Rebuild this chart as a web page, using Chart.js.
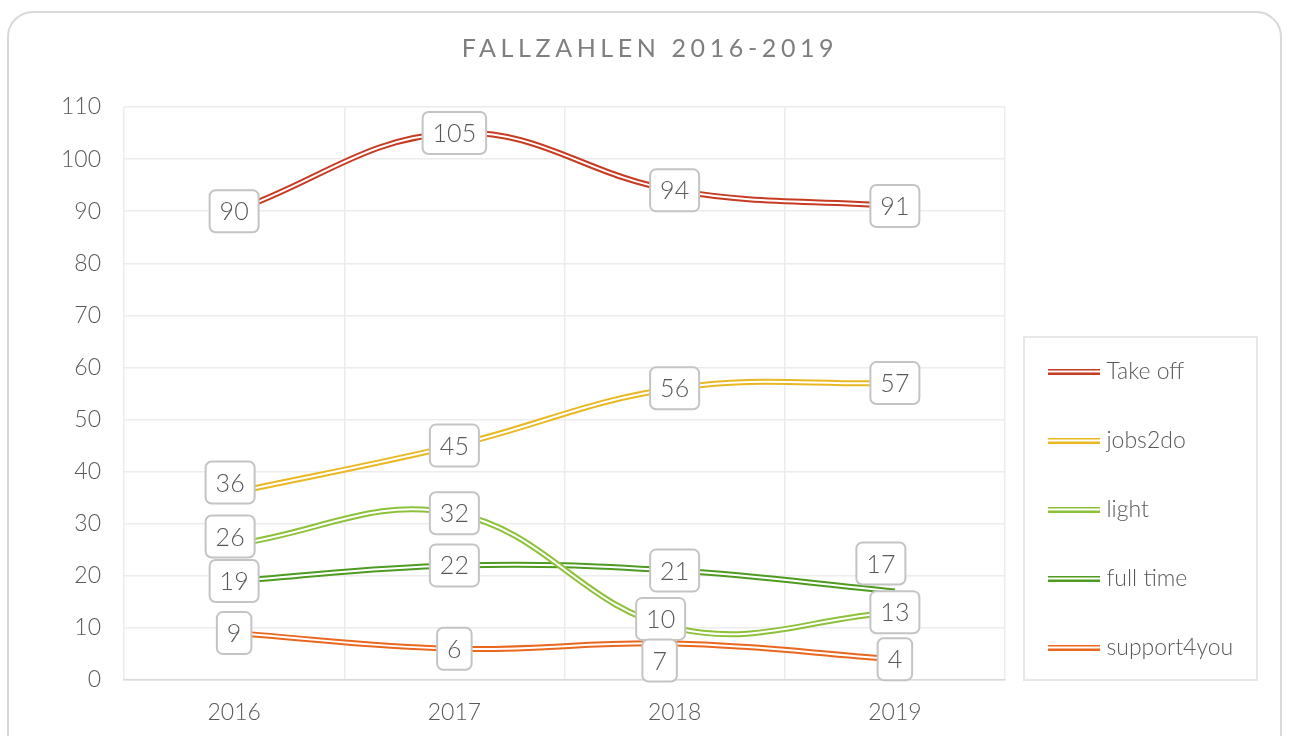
<!DOCTYPE html>
<html><head><meta charset="utf-8">
<script src="https://cdn.jsdelivr.net/npm/chart.js@4.4.1/dist/chart.umd.min.js"></script>
<style>
html,body{margin:0;padding:0;background:#fff;}
#wrap{position:relative;width:1290px;height:736px;overflow:hidden;}
#frame{position:absolute;left:7px;top:11px;width:1275px;height:780px;border:2px solid #d9d9d9;border-radius:26px;box-sizing:border-box;}
#c{position:absolute;left:0;top:0;}
</style></head><body>
<div id="wrap"><div id="frame"></div><canvas id="c" width="1290" height="736"></canvas></div>
<script>
// ---- data ----
const chartTitle = 'FALLZAHLEN 2016-2019';
const years = ['2016', '2017', '2018', '2019'];
const seriesNames = ['Take off', 'jobs2do', 'light', 'full time', 'support4you'];
const takeOff = [90, 105, 94, 91];
const jobs2do = [36, 45, 56, 57];
const light = [26, 32, 10, 13];
const fullTime = [19, 22, 21, 17];
const support4you = [9, 6, 7, 4];
const yMin = 0, yMax = 110, yStep = 10;

// ---- styles ----
const seriesColors = ['#C63B22', '#E8B822', '#8DC13A', '#4F9B22', '#E9671E'];
const FONT = 'Lato, "Open Sans", sans-serif';
const TEXT = '#595959';
// label nudges (dx, dy in px) keyed by series index / point index
const labelNudge = { 1: {0: [-4, -10]}, 2: {0: [-4, -8], 2: [-14, -9]}, 3: {3: [-14, -28]}, 4: {2: [-15, 17]} };

function swatch(color) {
  const c = document.createElement('canvas');
  c.width = 52; c.height = 6;
  const g = c.getContext('2d');
  g.fillStyle = color; g.fillRect(0, 0, 52, 6);
  g.fillStyle = '#ffffff'; g.fillRect(0, 2, 52, 2);
  return c;
}

const seriesValues = [takeOff, jobs2do, light, fullTime, support4you];
const datasets = seriesNames.map((name, i) => ({
  label: name,
  data: seriesValues[i],
  borderColor: seriesColors[i],
  backgroundColor: seriesColors[i],
  borderWidth: 6,
  pointRadius: 0,
  tension: 0.4,
  borderCapStyle: 'butt',
  fill: false
}));

const doubleLine = {
  id: 'doubleLine',
  afterDatasetDraw(chart, args) {
    const line = args.meta.dataset;
    if (!line) return;
    const saved = line.options;
    line.options = Object.assign({}, saved, { borderColor: '#ffffff', borderWidth: 2 });
    line.draw(chart.ctx, chart.chartArea);
    line.options = saved;
  }
};

const valueLabels = {
  id: 'valueLabels',
  afterDatasetsDraw(chart) {
    const ctx = chart.ctx;
    ctx.save();
    ctx.font = '300 25px ' + FONT;
    ctx.textAlign = 'center';
    ctx.textBaseline = 'middle';
    chart.data.datasets.forEach((ds, di) => {
      const meta = chart.getDatasetMeta(di);
      meta.data.forEach((pt, i) => {
        const n = (labelNudge[di] && labelNudge[di][i]) || [0, 0];
        const cx = pt.x + n[0], cy = pt.y + n[1];
        const txt = String(ds.data[i]);
        const w = ctx.measureText(txt).width + 20, h = 42;
        ctx.beginPath();
        ctx.roundRect(cx - w / 2, cy - h / 2, w, h, 6);
        ctx.fillStyle = '#ffffff'; ctx.fill();
        ctx.lineWidth = 2; ctx.strokeStyle = '#c4c4c4'; ctx.stroke();
        ctx.fillStyle = TEXT;
        ctx.fillText(txt, cx, cy + 1);
      });
    });
    ctx.restore();
  }
};

const legendPlace = {
  id: 'legendPlace',
  afterLayout(chart) {
    const lg = chart.legend;
    if (!lg) return;
    const pad = lg.options.labels.padding;
    lg.left = 1053 - pad; lg.right = 1257;
    lg.top = 360 - pad; lg.bottom = 730;
    lg.width = lg.right - lg.left; lg.height = lg.bottom - lg.top;
  },
  afterDraw(chart) {
    const lg = chart.legend;
    if (!lg || !lg.legendHitBoxes || !lg.legendHitBoxes.length) return;
    const hb = lg.legendHitBoxes;
    const first = hb[0], last = hb[hb.length - 1];
    const ctx = chart.ctx;
    ctx.save();
    ctx.strokeStyle = '#e8e8e8'; ctx.lineWidth = 2;
    const top = first.top - 23, bottom = last.top + last.height + 21;
    ctx.strokeRect(first.left - 29, top, 233, bottom - top);
    ctx.restore();
  }
};

const spacedTitle = {
  id: 'spacedTitle',
  afterDraw(chart) {
    const ctx = chart.ctx;
    ctx.save();
    ctx.font = '25px ' + FONT;
    ctx.letterSpacing = '4.6px';
    ctx.fillStyle = '#7f7f7f';
    ctx.textAlign = 'center';
    ctx.textBaseline = 'middle';
    ctx.fillText(chartTitle, 650, 49);
    ctx.restore();
  }
};

new Chart(document.getElementById('c'), {
  type: 'line',
  data: { labels: years, datasets },
  options: {
    responsive: false,
    animation: false,
    devicePixelRatio: 1,
    layout: { padding: { top: 107, left: 0, right: 65, bottom: 0 } },
    plugins: {
      title: { display: false },
      tooltip: { enabled: false },
      legend: {
        position: 'right',
        align: 'start',
        fullSize: false,
        maxWidth: 220,
        labels: {
          usePointStyle: true,
          pointStyleWidth: 42,
          padding: 46,
          color: TEXT,
          font: { family: FONT, size: 23, weight: '300' },
          generateLabels(chart) {
            return chart.data.datasets.map((ds, i) => ({
              text: ds.label,
              fontColor: TEXT,
              pointStyle: swatch(ds.borderColor),
              fillStyle: ds.borderColor,
              strokeStyle: ds.borderColor,
              lineWidth: 0,
              hidden: false,
              datasetIndex: i
            }));
          }
        }
      }
    },
    scales: {
      x: {
        offset: true,
        grid: { offset: true, color: '#ececec', lineWidth: 1.5, drawTicks: false },
        border: { color: '#d9d9d9', width: 1.5 },
        ticks: { color: TEXT, font: { family: FONT, size: 23, weight: '300' }, padding: 19 },
        afterFit(s) { s.height = 56; }
      },
      y: {
        min: yMin, max: yMax,
        grid: { color: '#ececec', lineWidth: 1.5, drawTicks: false },
        border: { display: false },
        ticks: { stepSize: yStep, color: TEXT, font: { family: FONT, size: 23, weight: '300' }, padding: 23 },
        afterFit(s) { s.width = 124; }
      }
    }
  },
  plugins: [doubleLine, valueLabels, legendPlace, spacedTitle]
});
</script>
</body></html>
